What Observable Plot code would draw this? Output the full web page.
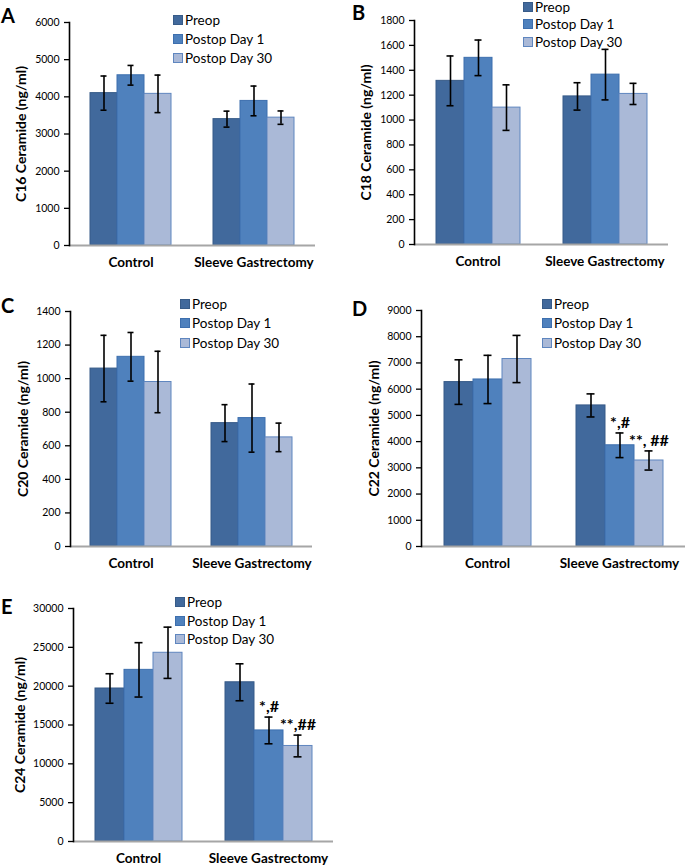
<!DOCTYPE html>
<html>
<head>
<meta charset="utf-8">
<script src="https://cdn.jsdelivr.net/npm/d3@7"></script>
<script src="https://cdn.jsdelivr.net/npm/@observablehq/plot@0.6"></script>
<style>
  body { margin: 0; background: white; }
  #root { position: relative; width: 685px; height: 867px; font-family: Lato, "Liberation Sans", sans-serif; }
  .panel { position: absolute; }
  .letter { position: absolute; font-weight: bold; font-size: 20px; line-height: 1; }
  .legend { position: absolute; font-size: 13.5px; }
  .legend .row { display: flex; align-items: center; white-space: nowrap; }
  .legend .sw { width: 10px; height: 10px; margin-right: 2px; box-sizing: border-box; border: 1px solid; }
</style>
</head>
<body>
<div id="root"></div>
<script>
// ---- data ----
const groups = ["Control", "Sleeve Gastrectomy"];
const series = ["Preop", "Postop Day 1", "Postop Day 30"];

const c16Mean = [4100, 4580, 4080, 3400, 3890, 3440];
const c16Err  = [460, 265, 505, 215, 400, 180];
const c16Ticks = [0, 1000, 2000, 3000, 4000, 5000, 6000];

const c18Mean = [1315, 1500, 1100, 1190, 1365, 1210];
const c18Err  = [200, 143, 183, 110, 203, 85];
const c18Ticks = [0, 200, 400, 600, 800, 1000, 1200, 1400, 1600, 1800];

const c20Mean = [1060, 1130, 980, 735, 765, 650];
const c20Err  = [198, 145, 183, 110, 203, 85];
const c20Ticks = [0, 200, 400, 600, 800, 1000, 1200, 1400];

const c22Mean = [6270, 6370, 7150, 5380, 3860, 3280];
const c22Err  = [850, 920, 900, 440, 470, 365];
const c22Ticks = [0, 1000, 2000, 3000, 4000, 5000, 6000, 7000, 8000, 9000];

const c24Mean = [19700, 22100, 24300, 20500, 14300, 12300];
const c24Err  = [1900, 3500, 3300, 2380, 1720, 1400];
const c24Ticks = [0, 5000, 10000, 15000, 20000, 25000, 30000];

const c22Notes = [
  {group: "Sleeve Gastrectomy", series: "Postop Day 1", text: "*,#"},
  {group: "Sleeve Gastrectomy", series: "Postop Day 30", text: "**, ##"}
];
const c24Notes = [
  {group: "Sleeve Gastrectomy", series: "Postop Day 1", text: "*,#"},
  {group: "Sleeve Gastrectomy", series: "Postop Day 30", text: "**,##"}
];

// ---- styles ----
const fills = ["#41699c", "#4f81bd", "#aab9d7"];
const strokes = ["#375b88", "#3d6fae", "#5f86bf"];

function buildRows(mean, err) {
  return groups.flatMap((g, gi) => series.map((s, si) => ({
    group: g, series: s, mean: mean[gi * 3 + si], err: err[gi * 3 + si]
  })));
}

function panel(cfg) {
  const rows = buildRows(cfg.mean, cfg.err);
  const notes = (cfg.notes || []).map(n => {
    const r = rows.find(d => d.group === n.group && d.series === n.series);
    return {...n, top: r.mean + r.err};
  });
  const marks = [
    ...series.map((s, i) => Plot.barY(rows.filter(d => d.series === s), {
      fx: "group", x: "series", y: "mean", fill: fills[i], stroke: strokes[i], strokeWidth: 1
    })),
    Plot.ruleY([0], {stroke: "#a6a6a6", strokeWidth: 2}),
    Plot.ruleX(rows, {fx: "group", x: "series", y1: d => d.mean - d.err, y2: d => d.mean + d.err, stroke: "black", strokeWidth: 1.6}),
    Plot.tickY(rows, {fx: "group", x: "series", y: d => d.mean + d.err, insetLeft: 10.5, insetRight: 10.5, stroke: "black", strokeWidth: 1.6}),
    Plot.tickY(rows, {fx: "group", x: "series", y: d => d.mean - d.err, insetLeft: 10.5, insetRight: 10.5, stroke: "black", strokeWidth: 1.6}),
    Plot.axisY({ticks: cfg.ticks, tickFormat: d => String(d), tickSize: 5, tickPadding: 5, label: null, fontSize: 10.5, stroke: "black", strokeWidth: 1.3}),
    Plot.frame({anchor: "left", facetAnchor: "left", stroke: "black", strokeWidth: 1.6}),
    Plot.text([cfg.label], {frameAnchor: "left", rotate: -90, dx: -cfg.labelOffset, textAnchor: "middle", fontWeight: "bold", fontSize: 14, facetAnchor: "left"}),
    Plot.axisFx({anchor: "bottom", tickSize: 0, tickPadding: 12, fontWeight: "bold", fontSize: 13.5, label: null})
  ];
  if (notes.length) {
    marks.push(Plot.text(notes, {fx: "group", x: "series", y: "top", text: "text", dy: -5, lineAnchor: "bottom", fontWeight: "bold", fontSize: 16}));
  }
  return Plot.plot({
    width: cfg.width, height: cfg.height,
    marginLeft: cfg.ml, marginRight: cfg.mr, marginTop: cfg.mt, marginBottom: cfg.mb,
    style: {fontFamily: "Lato, 'Liberation Sans', sans-serif", color: "black", background: "white", overflow: "visible"},
    fx: {domain: groups, padding: 0, label: null},
    x: {domain: series, paddingInner: 0, paddingOuter: cfg.po, axis: null},
    y: {domain: [0, cfg.ticks[cfg.ticks.length - 1]]},
    marks
  });
}

const panels = [
  {id: "A", left: 0, top: 0, width: 340, height: 290, ml: 68, mr: 25, mt: 22, mb: 45, po: 0.73, labelOffset: 48,
   mean: c16Mean, err: c16Err, ticks: c16Ticks, label: "C16 Ceramide (ng/ml)",
   letter: [1, 5], legend: [173, 10], rowH: 19},
  {id: "B", left: 340, top: 0, width: 345, height: 290, ml: 73, mr: 17, mt: 20, mb: 46, po: 0.75, labelOffset: 48,
   mean: c18Mean, err: c18Err, ticks: c18Ticks, label: "C18 Ceramide (ng/ml)",
   letter: [12, 2], legend: [183, -2], rowH: 17.5},
  {id: "C", left: 0, top: 290, width: 340, height: 290, ml: 70, mr: 28, mt: 21, mb: 34, po: 0.72, labelOffset: 46.5,
   mean: c20Mean, err: c20Err, ticks: c20Ticks, label: "C20 Ceramide (ng/ml)",
   letter: [1, 5], legend: [180, 4], rowH: 19.5},
  {id: "D", left: 340, top: 290, width: 345, height: 290, ml: 80, mr: 0, mt: 20, mb: 34, po: 0.76, labelOffset: 46.5,
   mean: c22Mean, err: c22Err, ticks: c22Ticks, label: "C22 Ceramide (ng/ml)", notes: c22Notes,
   letter: [12, 8], legend: [202, 4], rowH: 19.5},
  {id: "E", left: 0, top: 580, width: 340, height: 287, ml: 72, mr: 7, mt: 28, mb: 26, po: 0.73, labelOffset: 53,
   mean: c24Mean, err: c24Err, ticks: c24Ticks, label: "C24 Ceramide (ng/ml)", notes: c24Notes,
   letter: [1, 16], legend: [175, 13], rowH: 18.5}
];

const root = document.getElementById("root");
for (const p of panels) {
  const wrap = document.createElement("div");
  wrap.className = "panel";
  wrap.style.left = p.left + "px";
  wrap.style.top = p.top + "px";
  wrap.style.width = p.width + "px";
  wrap.style.height = p.height + "px";
  wrap.appendChild(panel(p));
  const letter = document.createElement("div");
  letter.className = "letter";
  letter.textContent = p.id;
  letter.style.left = p.letter[0] + "px";
  letter.style.top = p.letter[1] + "px";
  wrap.appendChild(letter);
  const legend = document.createElement("div");
  legend.className = "legend";
  legend.style.left = p.legend[0] + "px";
  legend.style.top = p.legend[1] + "px";
  series.forEach((s, i) => {
    const row = document.createElement("div");
    row.className = "row";
    row.style.height = p.rowH + "px";
    const sw = document.createElement("span");
    sw.className = "sw";
    sw.style.background = fills[i];
    sw.style.borderColor = strokes[i];
    const t = document.createElement("span");
    t.textContent = s;
    row.appendChild(sw);
    row.appendChild(t);
    legend.appendChild(row);
  });
  wrap.appendChild(legend);
  root.appendChild(wrap);
}
</script>
</body>
</html>
